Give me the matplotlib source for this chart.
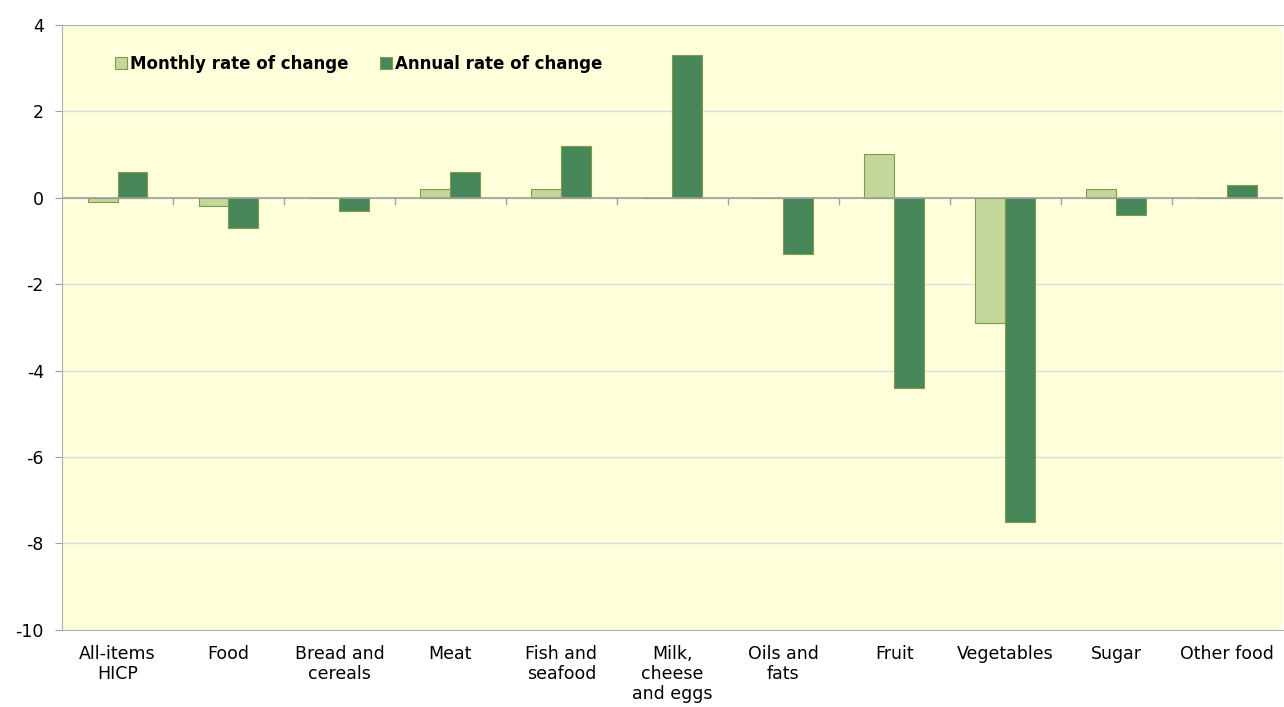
import matplotlib.pyplot as plt
import numpy as np

plt.rcParams['axes.unicode_minus'] = False

# categories and values (percent)
categories = ['All-items\nHICP', 'Food', 'Bread and\ncereals', 'Meat', 'Fish and\nseafood',
              'Milk,\ncheese\nand eggs', 'Oils and\nfats', 'Fruit', 'Vegetables', 'Sugar', 'Other food']
monthly = [-0.1, -0.2, 0.0, 0.2, 0.2, 0.0, 0.0, 1.0, -2.9, 0.2, 0.0]
annual = [0.6, -0.7, -0.3, 0.6, 1.2, 3.3, -1.3, -4.4, -7.5, -0.4, 0.3]

fig = plt.figure(figsize=(12.84, 7.07), dpi=100)
ax = fig.add_axes([0.0483, 0.109, 0.9507, 0.856])
ax.set_facecolor('#FFFFDC')

x = np.arange(len(categories))
w = 0.27
ax.bar(x - w / 2, monthly, w, color='#C4D79B', edgecolor='#7F9A48', linewidth=0.8,
       label='Monthly rate of change', zorder=3)
ax.bar(x + w / 2, annual, w, color='#47875A', edgecolor='#7F9A48', linewidth=0.8,
       label='Annual rate of change', zorder=3)

ax.set_xlim(-0.5, len(categories) - 0.5)
ax.set_ylim(-10, 4)
ax.set_yticks(range(-10, 5, 2))
ax.yaxis.grid(True, color='#DCDCDC', linewidth=1, zorder=0)
ax.tick_params(axis='y', length=5, color='#A0A0A0', labelsize=12.5, pad=8)

# zero line with ticks between categories
ax.axhline(0, color='#A0A0A0', linewidth=1.2, zorder=4)
for k in range(1, len(categories)):
    ax.plot([k - 0.5, k - 0.5], [0, -0.15], color='#A0A0A0', linewidth=1, zorder=4)

ax.set_xticks(x)
ax.set_xticklabels(categories, fontsize=12.5, linespacing=1.12)
ax.tick_params(axis='x', length=0, pad=11)

for s in ['left', 'top', 'bottom', 'right']:
    ax.spines[s].set_color('#B0B0B0')
ax.spines['right'].set_visible(False)

ax.legend(loc='upper left', bbox_to_anchor=(0.031, 0.975), ncol=2, frameon=False,
          prop={'weight': 'bold', 'size': 12}, handlelength=0.7, handleheight=0.7,
          handletextpad=0.2, columnspacing=1.9)

plt.savefig('out.png')
